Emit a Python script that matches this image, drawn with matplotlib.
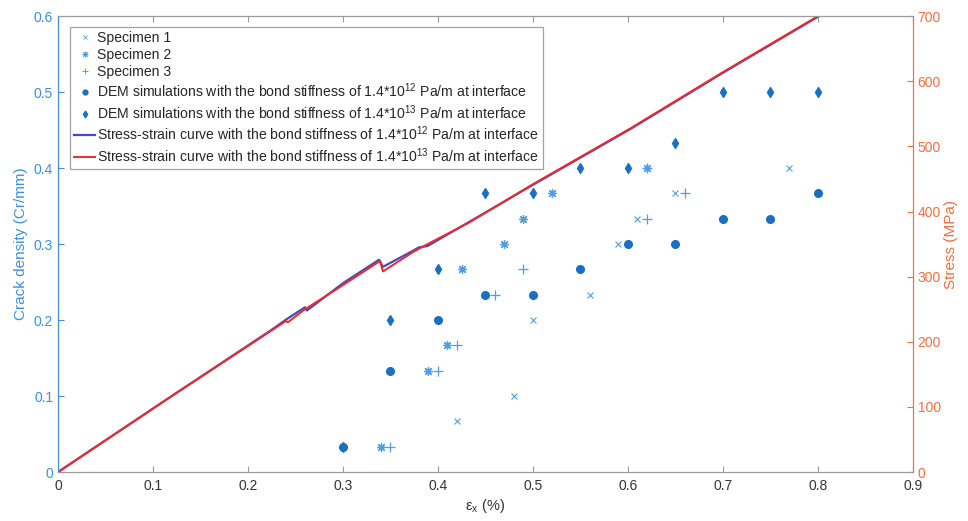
import matplotlib
matplotlib.use('Agg')
import matplotlib.pyplot as plt
from matplotlib.lines import Line2D

plt.rcParams.update({
    'font.family': ['Liberation Sans', 'DejaVu Sans'],
    'font.size': 9.5,
    'mathtext.default': 'regular',
    'xtick.direction': 'in',
    'ytick.direction': 'in',
})

# crack density data (Cr/mm) vs strain (%)
spec1_x = [0.42, 0.48, 0.50, 0.56, 0.59, 0.61, 0.65, 0.77]
spec1_y = [0.067, 0.100, 0.200, 0.233, 0.300, 0.333, 0.367, 0.400]
spec2_x = [0.34, 0.39, 0.41, 0.425, 0.47, 0.49, 0.52, 0.62]
spec2_y = [0.033, 0.133, 0.167, 0.267, 0.300, 0.333, 0.367, 0.400]
spec3_x = [0.35, 0.40, 0.42, 0.46, 0.49, 0.62, 0.66, 0.62]
spec3_y = [0.033, 0.133, 0.167, 0.233, 0.267, 0.333, 0.367, 0.400]
dem12_x = [0.30, 0.35, 0.40, 0.45, 0.50, 0.55, 0.60, 0.65, 0.70, 0.75, 0.80]
dem12_y = [0.033, 0.133, 0.200, 0.233, 0.233, 0.267, 0.300, 0.300, 0.333, 0.333, 0.367]
dem13_x = [0.30, 0.35, 0.40, 0.45, 0.50, 0.55, 0.60, 0.65, 0.70, 0.75, 0.80]
dem13_y = [0.033, 0.200, 0.267, 0.367, 0.367, 0.400, 0.400, 0.433, 0.500, 0.500, 0.500]

# stress-strain curves (MPa)
ss12_strain = [0, 0.12, 0.2255, 0.24, 0.26, 0.262, 0.30, 0.338, 0.342, 0.374, 0.38, 0.389,
               0.434, 0.50, 0.603, 0.70, 0.80]
ss12_stress = [0, 117, 219, 234, 253, 248, 290, 326, 315, 340, 345, 347,
               385, 441, 527, 613, 699]
ss13_strain = [0, 0.12, 0.2255, 0.24, 0.242, 0.26, 0.30, 0.339, 0.342, 0.374, 0.389,
               0.434, 0.50, 0.603, 0.70, 0.80]
ss13_stress = [0, 117, 218, 232, 230, 250, 287, 324, 308, 338, 350,
               384, 442, 528, 614, 700]

lab12 = r'1.4*10$^{12}$ Pa/m at interface'
lab13 = r'1.4*10$^{13}$ Pa/m at interface'

c_left = '#3d8fdc'
c_light = '#4f9fe6'
c_dark = '#1a6fc0'
c_right = '#f07040'
c_blue_line = '#4848c0'
c_red_line = '#ee2a2a'
c_gray = '#9a9a9a'
asterisk = (8, 2, 0)

fig = plt.figure(figsize=(9.68, 5.21), dpi=100)
ax1 = fig.add_axes([0.060, 0.094, 0.883, 0.875])
ax2 = ax1.twinx()

ax1.plot(spec1_x, spec1_y, 'x', color=c_light, ms=4.5, mew=0.8, ls='none')
ax1.plot(spec2_x, spec2_y, marker=asterisk, color=c_light, ms=6.5, mew=0.9, ls='none')
ax1.plot(spec3_x, spec3_y, '+', color=c_light, ms=7, mew=0.9, ls='none')
ax1.plot(dem12_x, dem12_y, 'o', color=c_dark, ms=5.5, ls='none')
ax1.plot(dem13_x, dem13_y, 'd', color=c_dark, ms=5.5, ls='none')

ax2.plot(ss12_strain, ss12_stress, color=c_blue_line, lw=1.6)
ax2.plot(ss13_strain, ss13_stress, color=c_red_line, lw=1.4)

ax1.set_xlim(0, 0.9)
ax1.set_ylim(0, 0.6)
ax2.set_ylim(0, 700)
ax1.set_xticks([0, 0.1, 0.2, 0.3, 0.4, 0.5, 0.6, 0.7, 0.8, 0.9])
ax1.set_xticklabels(['0', '0.1', '0.2', '0.3', '0.4', '0.5', '0.6', '0.7', '0.8', '0.9'])
ax1.set_yticks([0, 0.1, 0.2, 0.3, 0.4, 0.5, 0.6])
ax1.set_yticklabels(['0', '0.1', '0.2', '0.3', '0.4', '0.5', '0.6'])
ax2.set_yticks(range(0, 701, 100))

ax1.tick_params(axis='x', colors='#333333', top=True, length=4, width=0.8, color=c_gray,
                labelsize=10, pad=5)
ax1.tick_params(axis='y', colors=c_left, length=4, width=0.8, labelsize=10)
ax2.tick_params(axis='y', colors=c_right, length=4, width=0.8, labelsize=10)

for ax in (ax1, ax2):
    ax.spines['top'].set_color(c_gray)
    ax.spines['bottom'].set_color(c_gray)
    ax.spines['left'].set_color(c_left)
    ax.spines['right'].set_color(c_right)

ax1.set_ylabel('Crack density (Cr/mm)', color=c_left, fontsize=11, labelpad=4)
ax2.set_ylabel('Stress (MPa)', color=c_right, fontsize=11, labelpad=2)
ax1.set_xlabel(r'$\epsilon_x$ (%)', color='#333333', fontsize=10.5, labelpad=3)

handles = [
    Line2D([], [], marker='x', color=c_light, ms=3, mew=0.6, ls='none'),
    Line2D([], [], marker=asterisk, color=c_light, ms=4, mew=0.7, ls='none'),
    Line2D([], [], marker='+', color=c_light, ms=4.5, mew=0.7, ls='none'),
    Line2D([], [], marker='o', color=c_dark, ms=3.5, ls='none'),
    Line2D([], [], marker='d', color=c_dark, ms=3.5, ls='none'),
    Line2D([], [], color=c_blue_line, lw=1.6),
    Line2D([], [], color=c_red_line, lw=1.4),
]
labels = [
    'Specimen 1',
    'Specimen 2',
    'Specimen 3',
    'DEM simulations with the bond stiffness of ' + lab12,
    'DEM simulations with the bond stiffness of ' + lab13,
    'Stress-strain curve with the bond stiffness of ' + lab12,
    'Stress-strain curve with the bond stiffness of ' + lab13,
]
leg = ax2.legend(handles, labels, loc='upper left', bbox_to_anchor=(0.014, 0.976),
                 fontsize=10.1, frameon=True, fancybox=False, edgecolor='#8c8c8c',
                 handlelength=1.5, handletextpad=0.12, labelspacing=0.2,
                 borderpad=0.3, borderaxespad=0)
leg.get_frame().set_linewidth(0.9)
for t in leg.get_texts():
    t.set_color('#262626')

fig.savefig('out.png', dpi=100)
